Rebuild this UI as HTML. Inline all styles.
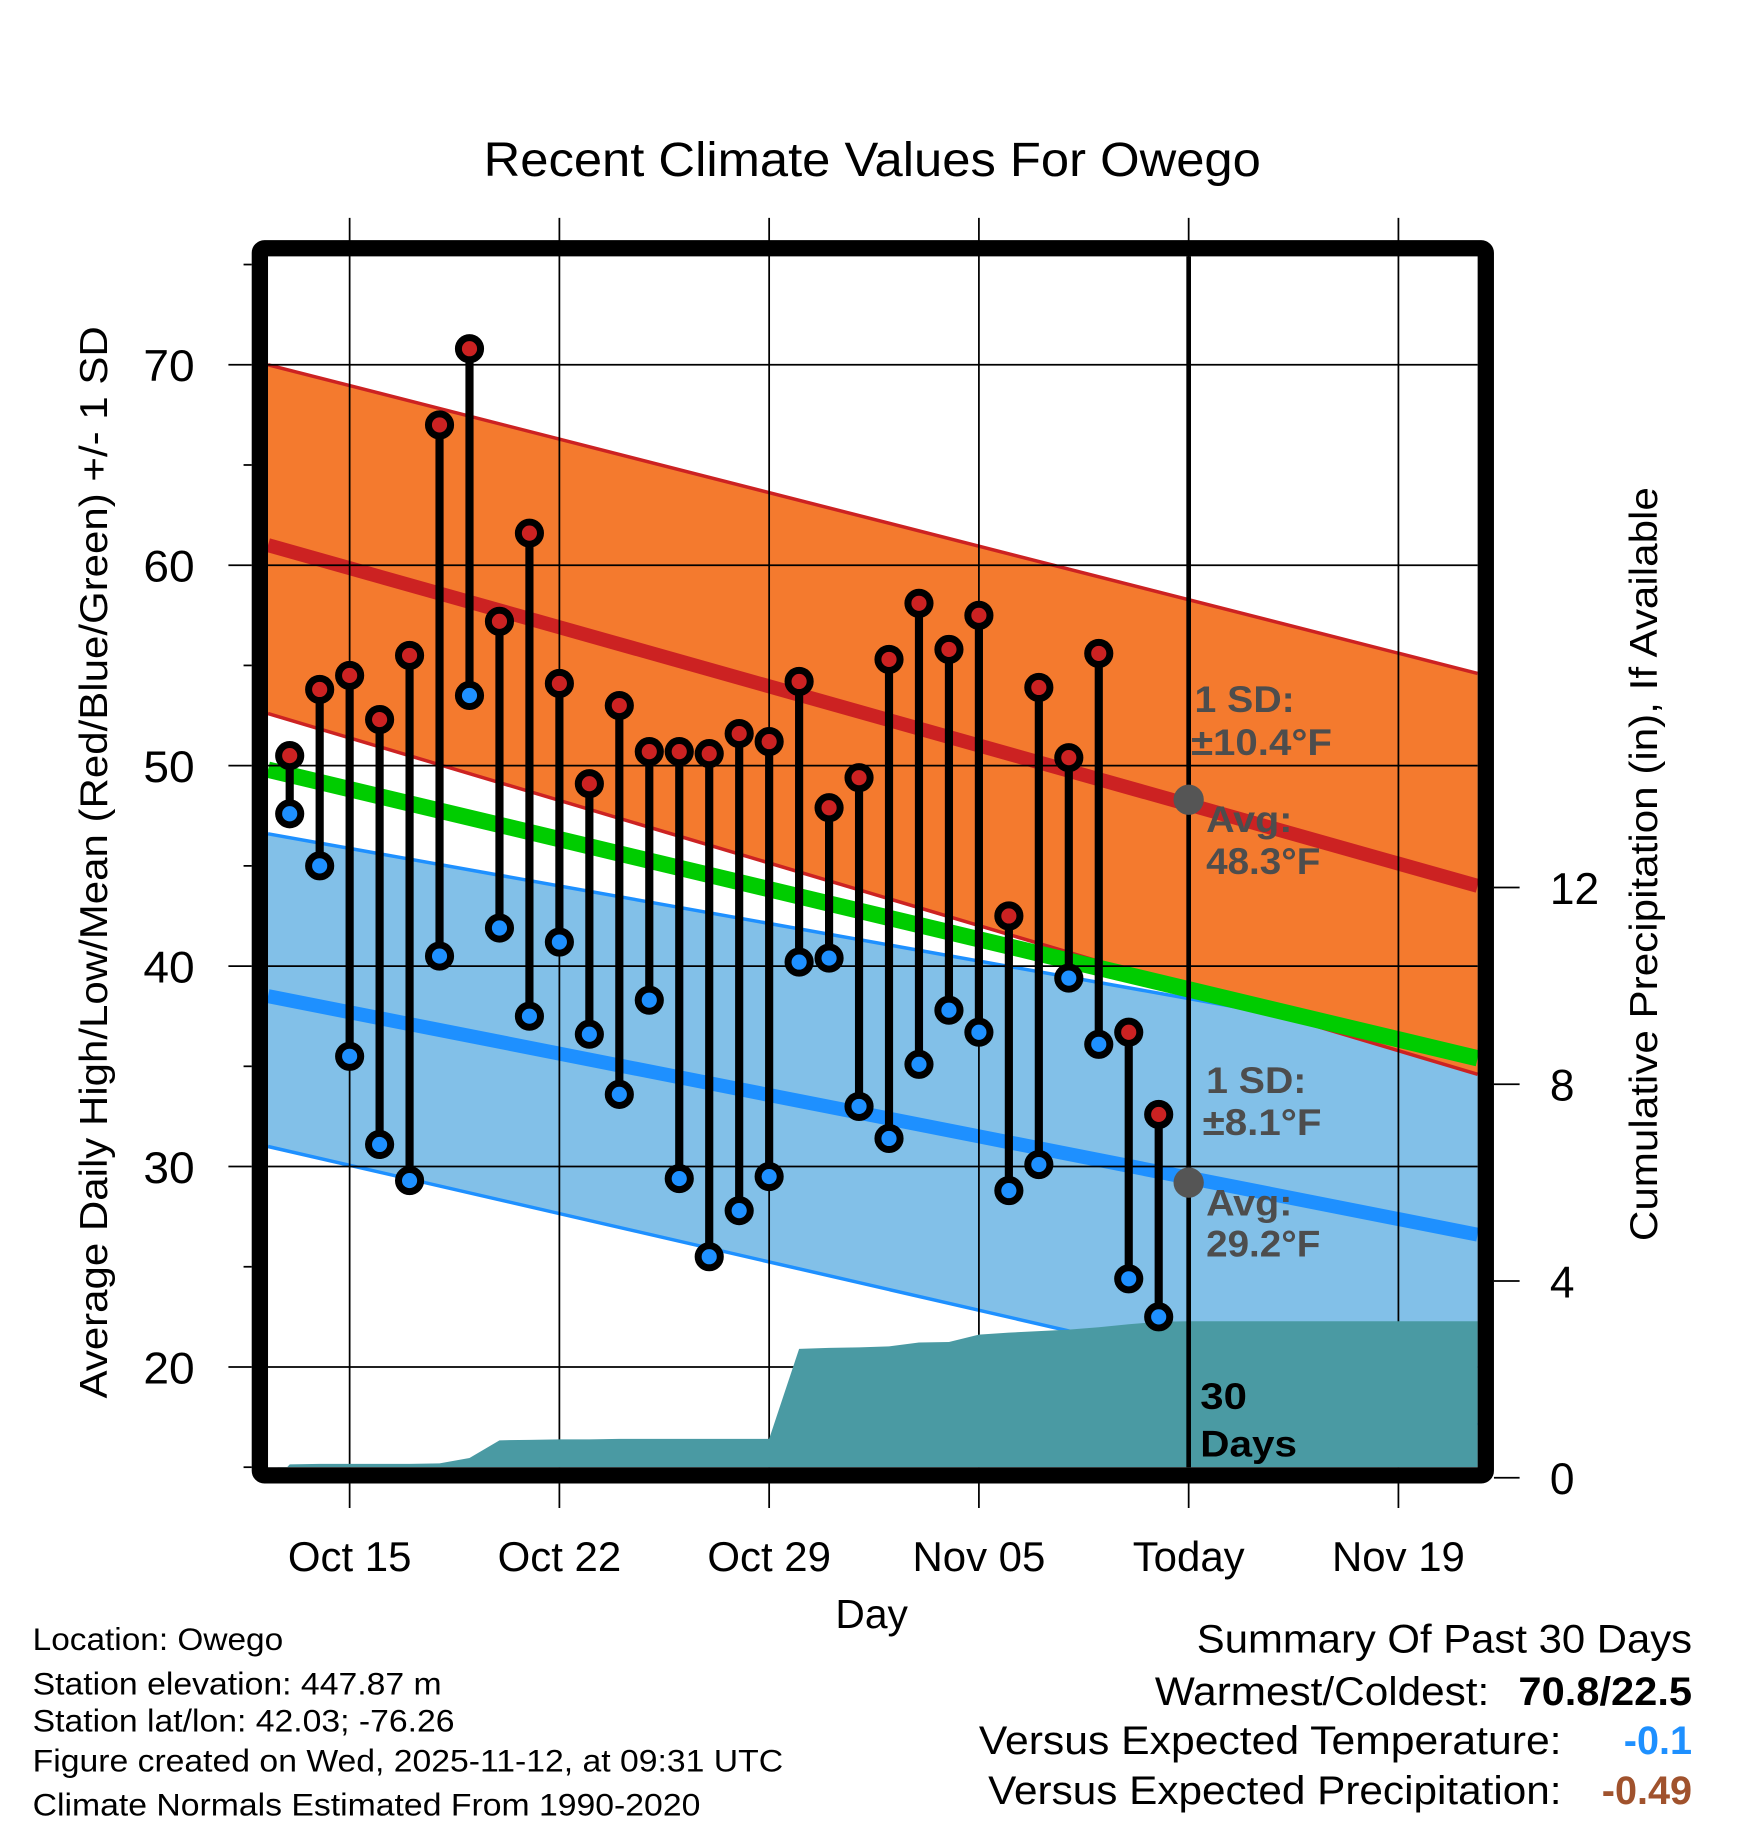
<!DOCTYPE html>
<html><head><meta charset="utf-8"><style>
html,body{margin:0;padding:0;background:#fff}
svg{display:block}
text{font-family:"Liberation Sans",sans-serif}
</style></head><body>
<svg id="chart" width="1748" height="1828" viewBox="0 0 1500 1568.6" preserveAspectRatio="none" xmlns="http://www.w3.org/2000/svg">
<g id="bands"></g>
<g id="grid"></g>
<g id="precip"></g>
<g id="marks"></g>
<g id="axes"></g>
<text x="415" y="151" font-size="41" textLength="667" lengthAdjust="spacingAndGlyphs">Recent Climate Values For Owego</text>
<text transform="translate(92,1200) rotate(-90)" font-size="33" textLength="920" lengthAdjust="spacingAndGlyphs">Average Daily High/Low/Mean (Red/Blue/Green) +/- 1 SD</text>
<text transform="translate(1422,1065) rotate(-90)" font-size="33" textLength="647" lengthAdjust="spacingAndGlyphs">Cumulative Precipitation (in), If Available</text>
<text x="748" y="1397" font-size="35" text-anchor="middle">Day</text>
<g font-size="27">
<text x="28" y="1416" textLength="215" lengthAdjust="spacingAndGlyphs">Location: Owego</text>
<text x="28" y="1454" textLength="351" lengthAdjust="spacingAndGlyphs">Station elevation: 447.87 m</text>
<text x="28" y="1486" textLength="362" lengthAdjust="spacingAndGlyphs">Station lat/lon: 42.03; -76.26</text>
<text x="28" y="1520" textLength="644" lengthAdjust="spacingAndGlyphs">Figure created on Wed, 2025-11-12, at 09:31 UTC</text>
<text x="28" y="1558" textLength="573" lengthAdjust="spacingAndGlyphs">Climate Normals Estimated From 1990-2020</text>
</g>
<g font-size="34">
<text x="1027" y="1418" textLength="425" lengthAdjust="spacingAndGlyphs">Summary Of Past 30 Days</text>
<text x="991" y="1463" textLength="287" lengthAdjust="spacingAndGlyphs">Warmest/Coldest:</text>
<text x="1303" y="1463" font-weight="bold" textLength="149" lengthAdjust="spacingAndGlyphs">70.8/22.5</text>
<text x="840" y="1505" textLength="500" lengthAdjust="spacingAndGlyphs">Versus Expected Temperature:</text>
<text x="1452" y="1505" text-anchor="end" font-weight="bold" fill="#1e90ff">-0.1</text>
<text x="848" y="1548" textLength="492" lengthAdjust="spacingAndGlyphs">Versus Expected Precipitation:</text>
<text x="1452" y="1548" text-anchor="end" font-weight="bold" fill="#a0522d">-0.49</text>
</g>
</svg>
<script>
const days = ["Oct13","Oct14","Oct15","Oct16","Oct17","Oct18","Oct19","Oct20","Oct21","Oct22","Oct23","Oct24","Oct25","Oct26","Oct27","Oct28","Oct29","Oct30","Oct31","Nov01","Nov02","Nov03","Nov04","Nov05","Nov06","Nov07","Nov08","Nov09","Nov10","Nov11"];
const highs = [50.5,53.8,54.5,52.3,55.5,67.0,70.8,57.2,61.6,54.1,49.1,53.0,50.7,50.7,50.6,51.6,51.2,54.2,47.9,49.4,55.3,58.1,55.8,57.5,42.5,53.9,50.4,55.6,36.7,32.6];
const lows = [47.6,45.0,35.5,31.1,29.3,40.5,53.5,41.9,37.5,41.2,36.6,33.6,38.3,29.4,25.5,27.8,29.5,40.2,40.4,33.0,31.4,35.1,37.8,36.7,28.8,30.1,39.4,36.1,24.4,22.5];
const precip = [0.27,0.28,0.28,0.28,0.28,0.29,0.4,0.76,0.77,0.78,0.78,0.79,0.79,0.79,0.79,0.79,0.79,2.62,2.64,2.65,2.67,2.75,2.76,2.91,2.95,2.98,3.01,3.06,3.12,3.17,3.18];
const xTickLabels = ["Oct 15","Oct 22","Oct 29","Nov 05","Today","Nov 19"];
const xTickDays = [2,9,16,23,30,37];
const yTicks = [20,30,40,50,60,70];
const y2Ticks = [0,4,8,12];
const hiTop = [70.0,54.6], hiAvg = [61.0,44.0], hiBot = [52.6,34.6];
const meanLine = [49.8,35.4];
const loTop = [46.6,35.8], loAvg = [38.5,26.6], loBot = [31.0,17.1];

const NS="http://www.w3.org/2000/svg";
const L=230,R=1268,T=220,B=1259;
const X=d=>248.6+d*25.714;
const Y=v=>313+(70-v)*17.2;
const Y2=v=>1268-v*42.2;
function mk(p,tag,a){const e=document.createElementNS(NS,tag);for(const k in a)e.setAttribute(k,a[k]);p.appendChild(e);return e;}
const bands=document.getElementById('bands'),grid=document.getElementById('grid'),pr=document.getElementById('precip'),marks=document.getElementById('marks'),axes=document.getElementById('axes');

function band(top,bot,fill,edge,name){
  const e=mk(bands,'polygon',{points:`${L},${Y(top[0])} ${R},${Y(top[1])} ${R},${Y(bot[1])} ${L},${Y(bot[0])}`,fill:fill});
  
  
  [top,bot].forEach(s=>{const l=mk(bands,'line',{x1:L,y1:Y(s[0]),x2:R,y2:Y(s[1]),stroke:edge,'stroke-width':3});
  
  });
}
function line(s,col,w,name){const l=mk(bands,'line',{x1:L,y1:Y(s[0]),x2:R,y2:Y(s[1]),stroke:col,'stroke-width':w});
  
  }
band(loTop,loBot,'#82c0e8','#1e90ff','low-sd-band');
line(loAvg,'#1e90ff',12,'low-average-line');
band(hiTop,hiBot,'#f47a2e','#cc2222','high-sd-band');
line(hiAvg,'#cc2222',12,'high-average-line');
line(meanLine,'#00cc00',14,'mean-line');

xTickDays.forEach(d=>{const g=mk(grid,'line',{x1:X(d),y1:187,x2:X(d),y2:B,stroke:'#000','stroke-width':1.5});

});
yTicks.forEach(v=>{const g=mk(grid,'line',{x1:L,y1:Y(v),x2:R,y2:Y(v),stroke:'#000','stroke-width':1.5});

});

let pts=`${X(-0.4)},${Y2(0)} `;
precip.forEach((v,i)=>{pts+=`${X(i)},${Y2(v)} `;});
pts+=`${R},${Y2(precip[precip.length-1])} ${R},${B} ${X(-0.4)},${B}`;
const pa=mk(pr,'polygon',{points:pts,fill:'#4a9aa3'});


mk(pr,'rect',{x:L,y:B,width:R-L,height:12,fill:'#fff'});

const tl=mk(marks,'line',{x1:X(30),y1:T,x2:X(30),y2:B,stroke:'#000','stroke-width':4});



function ann(x,y,txt,fill,name,len){const t=mk(marks,'text',{x:x,y:y,'font-size':32,'font-weight':'bold',fill:fill,textLength:len,lengthAdjust:'spacingAndGlyphs'});t.textContent=txt;

return t;}
const dot1=mk(marks,'circle',{cx:X(30),cy:Y(48.3),r:13,fill:'#555'});


const dot2=mk(marks,'circle',{cx:X(30),cy:Y(29.2),r:13,fill:'#555'});


ann(1025,611,'1 SD:','#4d4d4d','high-sd-label',86);
ann(1022,648,'±10.4°F','#4d4d4d','high-sd-value',121);
ann(1035,714,'Avg:','#4d4d4d','high-avg-label',74);
ann(1035,750,'48.3°F','#4d4d4d','high-avg-value',98);
ann(1035,938,'1 SD:','#4d4d4d','low-sd-label',86);
ann(1032,974,'±8.1°F','#4d4d4d','low-sd-value',102);
ann(1035,1043,'Avg:','#4d4d4d','low-avg-label',74);
ann(1035,1078,'29.2°F','#4d4d4d','low-avg-value',98);
ann(1030,1209,'30','#000','days-label',40);
ann(1030,1250,'Days','#000','days-label-2',83);

days.forEach((d,i)=>{
  const x=X(i);
  const s=mk(marks,'line',{x1:x,y1:Y(highs[i]),x2:x,y2:Y(lows[i]),stroke:'#000','stroke-width':7});
  
  
  const h=mk(marks,'circle',{cx:x,cy:Y(highs[i]),r:9.5,fill:'#cc2222',stroke:'#000','stroke-width':6});
  
  
  const lo=mk(marks,'circle',{cx:x,cy:Y(lows[i]),r:9.5,fill:'#1e90ff',stroke:'#000','stroke-width':6});
  
  
});

const fr=mk(axes,'rect',{x:223,y:213,width:1052,height:1053,fill:'none',stroke:'#000','stroke-width':14,rx:4});


for(let v=15;v<=75;v+=5){const maj=v%10===0;
  const t=mk(axes,'line',{x1:maj?196:209,y1:Y(v),x2:216,y2:Y(v),stroke:'#000','stroke-width':1.5});
  
  }
yTicks.forEach(v=>{const t=mk(axes,'text',{x:167,y:Y(v)+14,'font-size':38,'text-anchor':'end',textLength:44,lengthAdjust:'spacingAndGlyphs'});t.textContent=v;

});
y2Ticks.forEach(v=>{const l=mk(axes,'line',{x1:1282,y1:Y2(v),x2:1304,y2:Y2(v),stroke:'#000','stroke-width':1.5});


const t=mk(axes,'text',{x:1330,y:Y2(v)+14,'font-size':38});t.textContent=v;

});
xTickDays.forEach((d,i)=>{const l=mk(axes,'line',{x1:X(d),y1:1273,x2:X(d),y2:1294,stroke:'#000','stroke-width':1.5});


const t=mk(axes,'text',{x:X(d),y:1348,'font-size':36,'text-anchor':'middle'});t.textContent=xTickLabels[i];

});
</script>
</body></html>
